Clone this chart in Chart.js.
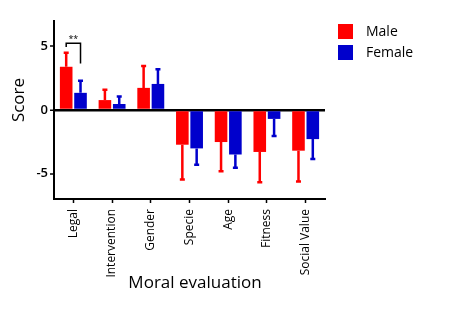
<!DOCTYPE html>
<html>
<head>
<meta charset="utf-8">
<script src="https://cdn.jsdelivr.net/npm/chart.js@4/dist/chart.umd.min.js"></script>
<style>
  html, body { margin: 0; padding: 0; background: #fff; }
  #wrap { width: 466px; height: 313px; }
</style>
</head>
<body>
<div id="wrap"><canvas id="moralChart" width="466" height="313"></canvas></div>
<script>
// Data
const categories = ["Legal", "Intervention", "Gender", "Specie", "Age", "Fitness", "Social Value"];
const maleScores = [3.4, 0.78, 1.74, -2.73, -2.52, -3.3, -3.2];
const femaleScores = [1.35, 0.47, 2.05, -3.02, -3.5, -0.7, -2.29];
const maleErrors = [1.1, 0.82, 1.72, 2.74, 2.3, 2.38, 2.43];
const femaleErrors = [0.95, 0.6, 1.15, 1.28, 1.05, 1.35, 1.56];
const yTickValues = [-5, 0, 5];

// Significance bracket (Legal: male vs female)
const sigLabel = "**";
const sigTop = 5.25;
const sigLeftEnd = 4.95;
const sigRightEnd = 3.65;

const errors = [maleErrors, femaleErrors];

// one-sided error bars + bracket + legend + axis titles
const extrasPlugin = {
    id: "extras",
    afterDatasetsDraw: (chart) => {
        const { ctx, scales } = chart;
        const y = scales.y;

        chart.data.datasets.forEach((ds, di) => {
            const meta = chart.getDatasetMeta(di);
            meta.data.forEach((bar, i) => {
                const v = ds.data[i];
                const end = v >= 0 ? v + errors[di][i] : v - errors[di][i];
                const y0 = y.getPixelForValue(v);
                const y1 = y.getPixelForValue(end);
                ctx.save();
                ctx.strokeStyle = ds.backgroundColor;
                ctx.lineWidth = 2.5;
                ctx.beginPath();
                ctx.moveTo(bar.x, y0);
                ctx.lineTo(bar.x, y1);
                ctx.moveTo(bar.x - 2.5, y1);
                ctx.lineTo(bar.x + 2.5, y1);
                ctx.stroke();
                ctx.restore();
            });
        });

        // bracket over Legal
        const mBar = chart.getDatasetMeta(0).data[0];
        const fBar = chart.getDatasetMeta(1).data[0];
        ctx.save();
        ctx.strokeStyle = "#000";
        ctx.lineWidth = 1.5;
        ctx.beginPath();
        ctx.moveTo(mBar.x, y.getPixelForValue(sigLeftEnd));
        ctx.lineTo(mBar.x, y.getPixelForValue(sigTop));
        ctx.lineTo(fBar.x, y.getPixelForValue(sigTop));
        ctx.lineTo(fBar.x, y.getPixelForValue(sigRightEnd));
        ctx.stroke();
        ctx.fillStyle = "#000";
        ctx.font = "9px 'Open Sans'";
        ctx.textAlign = "center";
        ctx.textBaseline = "bottom";
        ctx.fillText(sigLabel, (mBar.x + fBar.x) / 2, y.getPixelForValue(sigTop) + 1);
        ctx.restore();
    },
    afterDraw: (chart) => {
        const { ctx } = chart;
        ctx.save();

        // legend
        ctx.font = "14px 'Open Sans'";
        ctx.textBaseline = "middle";
        ctx.textAlign = "left";
        chart.data.datasets.forEach((ds, di) => {
            const top = 24 + di * 21;
            ctx.fillStyle = ds.backgroundColor;
            ctx.fillRect(338, top, 15, 15);
            ctx.fillStyle = "#000";
            ctx.fillText(ds.label, 366, top + 8);
        });

        // axis titles
        ctx.font = "17px 'Open Sans'";
        ctx.textAlign = "center";
        ctx.textBaseline = "middle";
        ctx.fillText("Moral evaluation", 195, 283);
        ctx.translate(19, 100);
        ctx.rotate(-Math.PI / 2);
        ctx.fillText("Score", 0, 0);
        ctx.restore();
    },
};

const ctx = document.getElementById("moralChart").getContext("2d");
const chart = new Chart(ctx, {
    type: "bar",
    data: {
        labels: categories,
        datasets: [
            {
                label: "Male",
                data: maleScores,
                backgroundColor: "#FF0000",
                categoryPercentage: 0.74,
                barPercentage: 0.88,
            },
            {
                label: "Female",
                data: femaleScores,
                backgroundColor: "#0000CC",
                categoryPercentage: 0.74,
                barPercentage: 0.88,
            },
        ],
    },
    options: {
        responsive: false,
        animation: false,
        layout: {
            padding: { left: 0, right: 141, top: 21, bottom: 0 },
        },
        scales: {
            x: {
                afterFit: (scale) => { scale.height = 114; },
                grid: {
                    offset: false,
                    drawOnChartArea: false,
                    drawTicks: true,
                    tickLength: 4,
                    tickColor: "#000",
                    tickWidth: 1.5,
                },
                border: { color: "#000", width: 2 },
                ticks: {
                    color: "#000",
                    font: { family: "'Open Sans'", size: 12 },
                    minRotation: 90,
                    maxRotation: 90,
                    padding: 6,
                    autoSkip: false,
                },
            },
            y: {
                min: -7,
                max: 7,
                afterFit: (scale) => { scale.width = 54; },
                afterBuildTicks: (scale) => {
                    scale.ticks = yTickValues.map((v) => ({ value: v }));
                },
                grid: {
                    color: (c) => (c.tick && c.tick.value === 0 ? "#000" : "rgba(0,0,0,0)"),
                    lineWidth: (c) => (c.tick && c.tick.value === 0 ? 2.5 : 0),
                    tickColor: "#000",
                    tickLength: 4,
                    tickWidth: 1.5,
                },
                border: { color: "#000", width: 2 },
                ticks: {
                    color: "#000",
                    font: { family: "'Open Sans'", size: 13, weight: "600" },
                    padding: 2,
                },
            },
        },
        plugins: {
            legend: { display: false },
            tooltip: { enabled: false },
        },
    },
    plugins: [extrasPlugin],
});
</script>
</body>
</html>
